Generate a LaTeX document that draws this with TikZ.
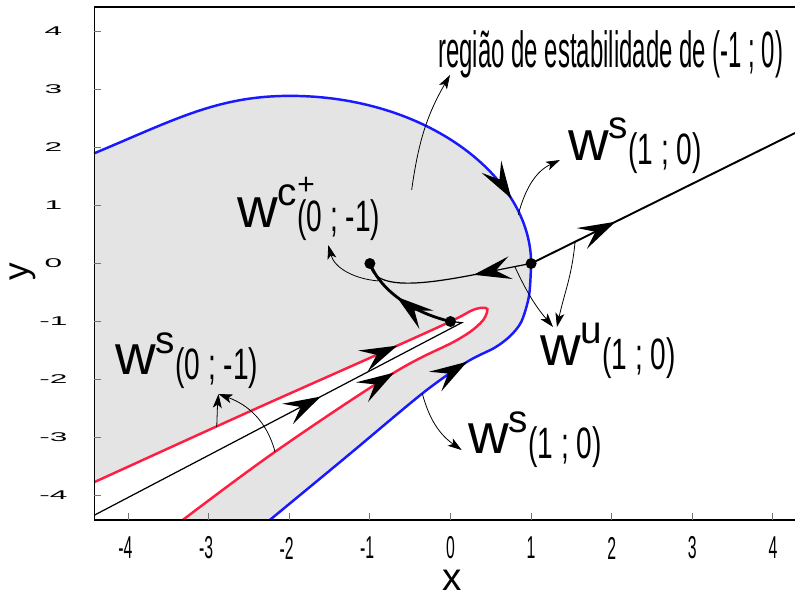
\documentclass[tikz,border=0pt]{standalone}
\usepackage{fontspec}
\setmainfont{Liberation Sans}
\usetikzlibrary{arrows.meta,decorations.markings}

\definecolor{manblue}{RGB}{25,25,255}
\definecolor{manred}{RGB}{255,30,65}
\definecolor{basin}{RGB}{228,228,228}

\newcommand{\manlabel}[2]{%
  {\fontsize{32}{32}\selectfont w}%
  \raisebox{12.5pt}{\fontsize{22}{22}\selectfont #1}%
  \raisebox{-2.5pt}{\scalebox{0.64}[1]{\fontsize{25}{25}\selectfont (#2)}}}
\newcommand{\xnum}[1]{\scalebox{0.5}[1]{\fontsize{18}{18}\selectfont #1}}
\newcommand{\ynum}[1]{\scalebox{1}[0.4]{\fontsize{18}{18}\selectfont #1}}

\begin{document}
\begin{tikzpicture}[
    x=1.612cm, y=1.16cm,
    flow/.style={postaction={decorate, decoration={markings,
        mark=at position #1 with {\arrow{Stealth[length=7.5mm, width=4.6mm, inset=3mm, color=black]}}}}},
    backflow/.style={postaction={decorate, decoration={markings,
        mark=at position #1 with {\arrowreversed{Stealth[length=7.5mm, width=4.6mm, inset=3mm, color=black]}}}}},
    stable/.style={draw=manblue, line width=1.4pt},
    tongue/.style={draw=manred, line width=1.4pt},
    pointer/.style={-{Stealth[length=2.8mm, width=1.8mm, inset=.7mm]}, line width=.45pt},
    fixpt/.style={circle, fill=black, inner sep=0pt, minimum size=2.2mm},
    lbl/.style={inner sep=0pt, anchor=base west},
    tickmark/.style={draw=black!55, line width=.6pt},
    num/.style={inner sep=0pt},
  ]
    \fill[white] (-5.589,-5.784) rectangle (4.274,4.543);
    \useasboundingbox (-5.589,-5.784) rectangle (4.274,4.543);

    \coordinate (Pr) at (1,0);
    \coordinate (Pl) at (-1,0);
    \coordinate (Q) at (0,-1);
    \coordinate (bluetop) at (-1.99,2.89);
    \coordinate (blueleft) at (-4.42,1.90);
    \coordinate (wsA) at (-4.42,-4.34);
    \coordinate (wsB) at (0.14,-1.02);
    \coordinate (uend) at (4.274,2.25);

    \fill[basin] (blueleft) .. controls (-3.42,2.48) and (-2.89,2.89) .. (bluetop)
      .. controls (-0.3,2.89) and (1,1.5) .. (Pr)
      -- plot[smooth] coordinates {(1,0) (0.975,-0.55) (0.88,-1.0) (0.74,-1.25) (0.55,-1.45) (0.2,-1.7) (-0.34,-2.23) (-1.29,-3.33) (-2.24,-4.42)}
      -- plot[smooth, tension=.6] coordinates {(-3.32,-4.42) (-2.15,-3.22) (-0.71,-1.89) (0.08,-1.32) (0.37,-1.03) (0.455,-0.83) (0.43,-0.765) (0.28,-0.80) (0,-1.0) (-0.875,-1.55) (-2.57,-2.60) (-4.42,-3.77)} -- cycle;

    \draw[stable, flow=.87] (blueleft) .. controls (-3.42,2.48) and (-2.89,2.89) .. (bluetop)
      .. controls (-0.3,2.89) and (1,1.5) .. (Pr);
    \draw[stable, flow=.664] plot[smooth] coordinates {(-2.24,-4.42) (-1.29,-3.33) (-0.34,-2.23) (0.2,-1.7) (0.55,-1.45) (0.74,-1.25) (0.88,-1.0) (0.975,-0.55) (1,0)};
    \draw[tongue, flow=.413, backflow=.68] plot[smooth, tension=.6] coordinates {(-4.42,-3.77) (-2.57,-2.60) (-0.875,-1.55) (0,-1.0) (0.28,-0.80) (0.43,-0.765) (0.455,-0.83) (0.37,-1.03) (0.08,-1.32) (-0.71,-1.89) (-2.15,-3.22) (-3.32,-4.42)};

    \draw[line width=.7pt, flow=.6] (wsA) -- (wsB) -- (Q);
    \draw[line width=1.1pt, flow=.32] (Pr) -- (uend);
    \draw[line width=.7pt, flow=.34] (Pr) .. controls (0.2,-0.2) and (-0.95,-0.65) .. (Pl);
    \draw[line width=1.6pt, flow=.58] (Q) .. controls (-0.45,-0.85) and (-0.85,-0.5) .. (Pl);

    \coordinate (regfrom) at (-0.482,1.267);
    \coordinate (regtip) at (-0.006,3.25);
    \coordinate (ws1from) at (0.84,0.84);
    \coordinate (ws1tip) at (1.358,1.784);
    \coordinate (wcfrom) at (-0.9,-0.3);
    \coordinate (wctip) at (-1.516,0.319);
    \coordinate (wufromA) at (0.8,-0.06);
    \coordinate (wutipA) at (1.272,-1.095);
    \coordinate (wufromB) at (1.545,0.374);
    \coordinate (wutipB) at (1.321,-1.095);
    \coordinate (ws0fromA) at (-2.9,-2.82);
    \coordinate (ws0fromB) at (-2.177,-3.245);
    \coordinate (ws0tip) at (-2.878,-2.25);
    \coordinate (ws2from) at (-0.35,-2.24);
    \coordinate (ws2tip) at (0.139,-3.216);

    \draw[pointer] (regfrom) to[out=82, in=240] (regtip);
    \draw[pointer] (ws1from) to[out=75, in=205] (ws1tip);
    \draw[pointer] (wcfrom) to[out=175, in=-75] (wctip);
    \draw[pointer] (wufromA) to[out=-65, in=130] (wutipA);
    \draw[pointer] (wufromB) to[out=-95, in=78] (wutipB);
    \draw[pointer] (ws0fromA) to[out=88, in=-95] (ws0tip);
    \draw[pointer] (ws0fromB) to[out=105, in=-20] (ws0tip);
    \draw[pointer] (ws2from) to[out=-75, in=145] (ws2tip);

    \node[lbl] (regionlbl) at (-0.155,3.371) {\scalebox{0.47}[1]{\fontsize{29}{29}\selectfont região de estabilidade de (-1 ; 0)}};
    \node[lbl] (wsRup) at (1.458,1.784) {\manlabel{s}{1 ; 0}};
    \node[lbl] (wcQ) at (-2.649,0.629) {\manlabel{c\rlap{\raisebox{6pt}{\fontsize{17}{17}\selectfont +}}}{0 ; -1}};
    \node[lbl] (wsQ) at (-4.163,-1.922) {\manlabel{s}{0 ; -1}};
    \node[lbl] (wuR) at (1.110,-1.75) {\manlabel{u}{1 ; 0}};
    \node[lbl] (wsRdown) at (0.217,-3.284) {\manlabel{s}{1 ; 0}};

    \draw[line width=.8pt] (4.274,4.42) -- (-4.42,4.42) -- (-4.42,-4.42) -- (4.274,-4.42);
    \foreach \t in {-4,...,4} {
      \draw[tickmark] (\t,-4.42) -- ++(0,0.12);
      \draw[tickmark] (-4.42,\t) -- ++(0.087,0);
      \node[num] (yl\t) at (-4.925,\t) {\ynum{\t}};
    }
    \node[num] (xl0) at (0,-4.905) {\xnum{0}};
    \foreach \t in {1,...,4} {
      \node[num] (xl\t) at (\t,-4.905) {\xnum{\t}};
      \node[num] (xlm\t) at (-\t,-4.905) {\xnum{\llap{-}\t}};
    }
    \node[anchor=base, inner sep=0pt, font=\fontsize{22}{22}\selectfont] (xname) at (0.02,-5.64) {x};
    \node[rotate=90, inner sep=0pt, font=\fontsize{20}{20}\selectfont] (yname) at (-5.31,-0.14) {y};

    \node[fixpt] (dotR) at (Pr) {};
    \node[fixpt] (dotL) at (Pl) {};
    \node[fixpt] (dotQ) at (Q) {};
  \end{tikzpicture}
\end{document}
